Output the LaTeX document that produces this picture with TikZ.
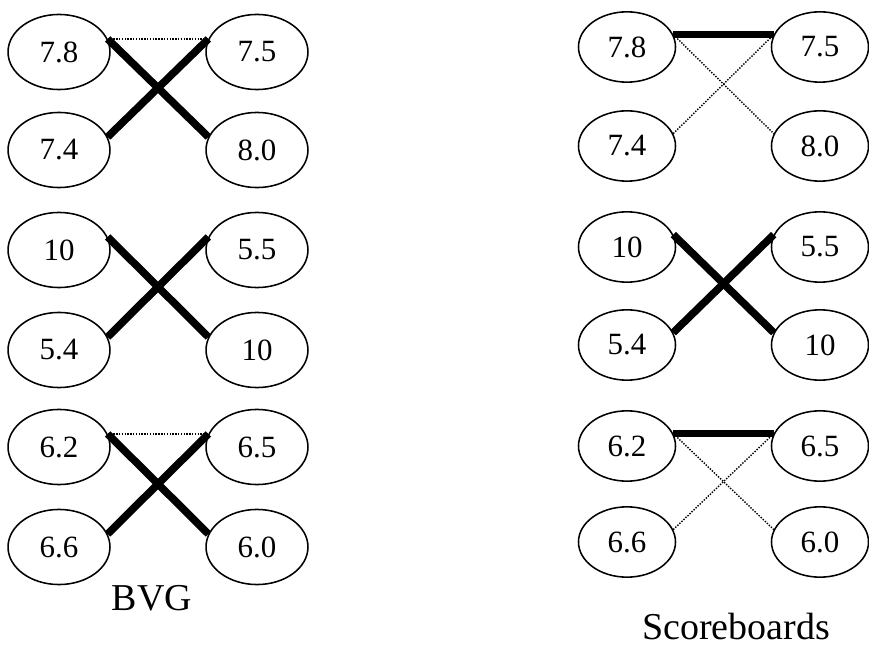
\documentclass[tikz,border=0pt]{standalone}
\usepackage{fontspec}
\setmainfont{Liberation Serif}
\usetikzlibrary{shapes.geometric}

\tikzset{
    bvg/.style={ellipse, draw, line width=1.1pt, minimum width=72.5pt, minimum height=53.4pt, inner sep=0pt, font=\fontsize{22}{26}\selectfont},
    board/.style={bvg, minimum width=69pt, minimum height=50pt},
    strong/.style={line width=5.4pt},
    weak/.style={line width=1pt, densely dotted},
    grouplabel/.style={font=\fontsize{27}{32}\selectfont}
}

\begin{document}
\begin{tikzpicture}[x=0.025cm, y=-0.025cm]
    \useasboundingbox (0,0) rectangle (869,648);

    % BVG
    \node[bvg] (b11) at (59,52) {7.8};
    \node[bvg] (b12) at (257,52) {7.5};
    \node[bvg] (b13) at (59,150) {7.4};
    \node[bvg] (b14) at (257,150) {8.0};

    \node[bvg] (b21) at (59,250) {10};
    \node[bvg] (b22) at (257,250) {5.5};
    \node[bvg] (b23) at (59,350) {5.4};
    \node[bvg] (b24) at (257,350) {10};

    \node[bvg] (b31) at (59,447) {6.2};
    \node[bvg] (b32) at (257,447) {6.5};
    \node[bvg] (b33) at (59,547) {6.6};
    \node[bvg] (b34) at (257,547) {6.0};

    \draw[weak] (b11.15) -- (b12.165);
    \draw[strong] (b11.15) -- (b14.165);
    \draw[strong] (b13.15) -- (b12.165);

    \draw[strong] (b21.15) -- (b24.165);
    \draw[strong] (b23.15) -- (b22.165);

    \draw[weak] (b31.15) -- (b32.165);
    \draw[strong] (b31.15) -- (b34.165);
    \draw[strong] (b33.15) -- (b32.165);

    \node[grouplabel] (bvgname) at (152,598) {BVG};

    % Scoreboards
    \node[board] (s11) at (627,47) {7.8};
    \node[board] (s12) at (820,47) {7.5};
    \node[board] (s13) at (627,146) {7.4};
    \node[board] (s14) at (820,146) {8.0};

    \node[board] (s21) at (627,247) {10};
    \node[board] (s22) at (820,247) {5.5};
    \node[board] (s23) at (627,345) {5.4};
    \node[board] (s24) at (820,345) {10};

    \node[board] (s31) at (627,446) {6.2};
    \node[board] (s32) at (820,446) {6.5};
    \node[board] (s33) at (627,542) {6.6};
    \node[board] (s34) at (820,542) {6.0};

    \draw[strong] (s11.15) -- (s12.165);
    \draw[weak] (s11.15) -- (s14.165);
    \draw[weak] (s13.15) -- (s12.165);

    \draw[strong] (s21.15) -- (s24.165);
    \draw[strong] (s23.15) -- (s22.165);

    \draw[strong] (s31.15) -- (s32.165);
    \draw[weak] (s31.15) -- (s34.165);
    \draw[weak] (s33.15) -- (s32.165);

    \node[grouplabel] (sbname) at (736,627) {Scoreboards};
\end{tikzpicture}
\end{document}
